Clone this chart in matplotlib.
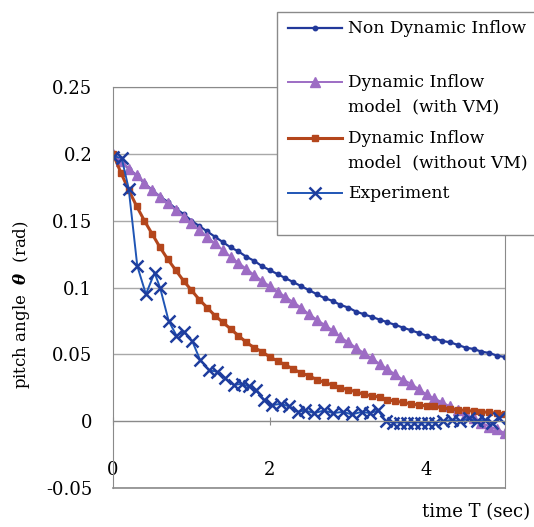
import matplotlib.pyplot as plt
from matplotlib.lines import Line2D
from matplotlib.patches import Rectangle

plt.rcParams['font.family'] = ['DejaVu Serif']
plt.rcParams['mathtext.fontset'] = 'dejavuserif'

# time grid of the simulated series (sec)
t_sim = [0.0, 0.1, 0.2, 0.3, 0.4, 0.5, 0.6, 0.7, 0.8, 0.9,
         1.0, 1.1, 1.2, 1.3, 1.4, 1.5, 1.6, 1.7, 1.8, 1.9,
         2.0, 2.1, 2.2, 2.3, 2.4, 2.5, 2.6, 2.7, 2.8, 2.9,
         3.0, 3.1, 3.2, 3.3, 3.4, 3.5, 3.6, 3.7, 3.8, 3.9,
         4.0, 4.1, 4.2, 4.3, 4.4, 4.5, 4.6, 4.7, 4.8, 4.9, 5.0]

non_dynamic = [0.200, 0.194, 0.189, 0.184, 0.178, 0.173, 0.168, 0.164, 0.159, 0.155,
               0.150, 0.146, 0.142, 0.138, 0.134, 0.130, 0.127, 0.123, 0.120, 0.116,
               0.113, 0.110, 0.107, 0.104, 0.101, 0.098, 0.095, 0.092, 0.090, 0.087,
               0.085, 0.082, 0.080, 0.078, 0.076, 0.074, 0.072, 0.070, 0.068, 0.066,
               0.064, 0.062, 0.060, 0.059, 0.057, 0.055, 0.054, 0.052, 0.051, 0.049, 0.048]

with_vm = [0.200, 0.1945, 0.189, 0.184, 0.178, 0.173, 0.168, 0.163, 0.158, 0.153,
           0.148, 0.143, 0.138, 0.133, 0.128, 0.123, 0.1185, 0.114, 0.1095, 0.105,
           0.101, 0.097, 0.093, 0.089, 0.085, 0.080, 0.076, 0.072, 0.068, 0.063,
           0.059, 0.055, 0.051, 0.047, 0.043, 0.039, 0.035, 0.031, 0.028, 0.024,
           0.020, 0.017, 0.014, 0.011, 0.008, 0.005, 0.002, -0.001, -0.004, -0.006, -0.009]

without_vm = [0.200, 0.186, 0.173, 0.161, 0.150, 0.140, 0.130, 0.121, 0.113, 0.105,
              0.098, 0.091, 0.085, 0.079, 0.074, 0.069, 0.064, 0.059, 0.055, 0.052,
              0.048, 0.045, 0.042, 0.039, 0.036, 0.034, 0.031, 0.029, 0.027, 0.025,
              0.0235, 0.022, 0.020, 0.019, 0.018, 0.016, 0.015, 0.014, 0.013, 0.012,
              0.0115, 0.011, 0.010, 0.009, 0.0086, 0.008, 0.0075, 0.007, 0.0065, 0.006, 0.0056]

t_exp = [0.0, 0.11, 0.20, 0.31, 0.42, 0.53, 0.60, 0.71, 0.81, 0.91,
         1.01, 1.11, 1.23, 1.33, 1.43, 1.54, 1.64, 1.73, 1.82, 1.93,
         2.03, 2.14, 2.25, 2.36, 2.45, 2.57, 2.69, 2.81, 2.93, 3.05,
         3.17, 3.28, 3.38, 3.48, 3.57, 3.66, 3.75, 3.84, 3.93, 4.02,
         4.11, 4.21, 4.32, 4.43, 4.54, 4.64, 4.74, 4.84, 4.92]
experiment = [0.198, 0.197, 0.174, 0.116, 0.095, 0.111, 0.100, 0.075, 0.064, 0.067,
              0.060, 0.046, 0.038, 0.037, 0.032, 0.027, 0.028, 0.026, 0.023, 0.016,
              0.012, 0.013, 0.011, 0.007, 0.008, 0.006, 0.008, 0.006, 0.007, 0.005,
              0.007, 0.006, 0.008, 0.000, -0.001, -0.001, -0.001, -0.001, -0.001, -0.001,
              -0.001, 0.000, 0.001, 0.000, 0.002, 0.000, 0.001, -0.001, 0.002]

labels = ['Non Dynamic Inflow', 'Dynamic Inflow\nmodel  (with VM)',
          'Dynamic Inflow\nmodel  (without VM)', 'Experiment']

c_nd = '#22399a'
c_vm = '#9d6cc4'
c_wo = '#b4461c'
c_ex = '#1f55b5'

styles = [dict(color=c_nd, lw=1.6, marker='o', ms=3.2),
          dict(color=c_vm, lw=1.4, marker='^', ms=7.5),
          dict(color=c_wo, lw=2.2, marker='s', ms=5),
          dict(color=c_ex, lw=1.4, marker='x', ms=9, mew=1.8, mec='#1e3d9e')]

fig = plt.figure(figsize=(5.34, 5.27), dpi=100)
ax = fig.add_axes([0.2116, 0.074, 0.7341, 0.7609])

ax.plot(t_sim, non_dynamic, **styles[0])
ax.plot(t_sim, with_vm, **styles[1])
ax.plot(t_sim, without_vm, **styles[2])
ax.plot(t_exp, experiment, **styles[3])

ax.set_xlim(0, 5)
ax.set_ylim(-0.05, 0.25)
ax.set_yticks([-0.05, 0, 0.05, 0.1, 0.15, 0.2, 0.25])
ax.set_yticklabels(['-0.05', '0', '0.05', '0.1', '0.15', '0.2', '0.25'])
ax.set_xticks([0, 2, 4])
ax.set_xticklabels(['0', '2', '4'])
ax.yaxis.grid(True, color='#a8a8a8', lw=1)
ax.set_axisbelow(True)

for s in ['top', 'left', 'right']:
    ax.spines[s].set_color('#8a8a8a')
ax.spines['bottom'].set_position(('data', 0))
ax.spines['bottom'].set_color('#8a8a8a')
ax.axhline(-0.05, color='#8a8a8a', lw=1.2, clip_on=False)
ax.tick_params(axis='y', length=0, pad=15, labelsize=13)
ax.tick_params(axis='x', direction='inout', length=6, color='#8a8a8a', pad=26, labelsize=13)

ax.set_ylabel('pitch angle  $\\boldsymbol{\\theta}$  (rad)', fontsize=12)
ax.yaxis.set_label_coords(-0.207, 0.456)
fig.text(0.993, 0.028, 'time T (sec)', ha='right', va='center', fontsize=13)

# legend box, partly cut by the figure edge
W, H = 534.0, 527.0
fig.add_artist(Rectangle((277 / W, 1 - 235 / H), 300 / W, 223 / H, transform=fig.transFigure,
                         facecolor='white', edgecolor='#8a8a8a', lw=1, zorder=5))
rows = [28, 82, 138, 193]
for lab, st, y in zip(labels, styles, rows):
    yy = 1 - y / H
    fig.add_artist(Line2D([288 / W, 342 / W], [yy, yy], transform=fig.transFigure,
                          color=st['color'], lw=st['lw'], zorder=6))
    mk = dict(st)
    mk.pop('lw')
    fig.add_artist(Line2D([315 / W], [yy], transform=fig.transFigure, ls='none',
                          zorder=7, **mk))
    fig.text(348 / W, yy + 8 / H, lab, ha='left', va='top', fontsize=12.3,
             linespacing=1.55, zorder=8)

fig.savefig('out.png', dpi=100)
